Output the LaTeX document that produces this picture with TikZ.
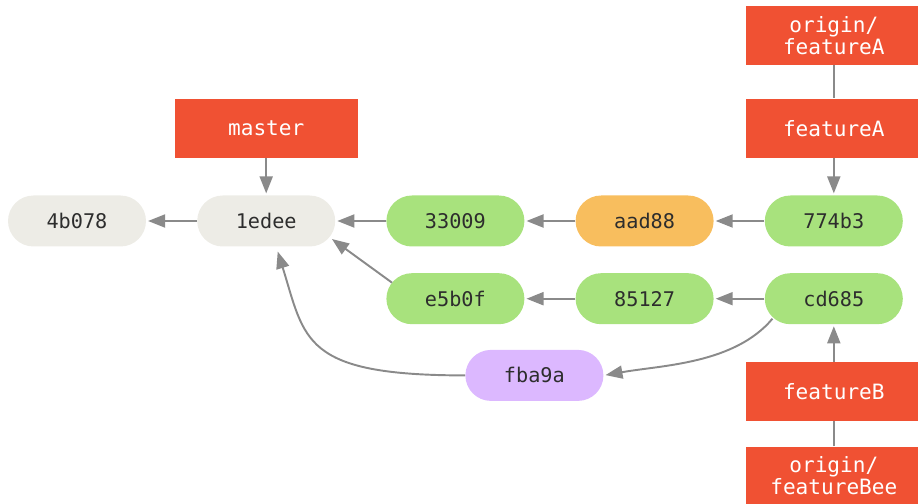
\documentclass[tikz,border=0pt]{standalone}
\usepackage{fontspec}
\setmonofont{DejaVu Sans Mono}
\usetikzlibrary{arrows.meta,positioning}
\definecolor{refred}{RGB}{240,81,51}
\definecolor{commitgray}{RGB}{237,236,230}
\definecolor{commitgreen}{RGB}{168,226,125}
\definecolor{commitorange}{RGB}{248,190,94}
\definecolor{commitpurple}{RGB}{220,184,255}
\definecolor{arrowgray}{RGB}{138,138,138}
\definecolor{commitink}{RGB}{45,45,45}
\newcommand{\hashfont}{\ttfamily\fontsize{11.5}{13}\selectfont}
\newcommand{\reffont}{\ttfamily\fontsize{12}{12.5}\selectfont}

\begin{document}
\begin{tikzpicture}[
    node distance=1.01cm,
    commit/.style={rectangle,rounded corners=0.51cm,minimum width=2.76cm,
      minimum height=1.02cm,inner sep=0pt,font=\hashfont,text=commitink},
    ref/.style={rectangle,fill=refred,minimum width=3.5cm,minimum height=1.18cm,
      inner sep=0pt,align=center,font=\reffont,text=white},
    arrow/.style={-{Triangle[length=3.4mm,width=2.6mm]},line width=1.1pt,
      draw=arrowgray,shorten >=1pt},
    link/.style={line width=1.1pt,draw=arrowgray}
  ]
    \useasboundingbox (0,0) rectangle (18.36,-10.08);

    % commits
    \node[commit,fill=commitgray] (c4b078) at (1.54,-4.42) {4b078};
    \node[commit,fill=commitgray,right=of c4b078] (c1edee) {1edee};
    \node[commit,fill=commitgreen,right=of c1edee] (c33009) {33009};
    \node[commit,fill=commitorange,right=of c33009] (caad88) {aad88};
    \node[commit,fill=commitgreen,right=of caad88] (c774b3) {774b3};
    \node[commit,fill=commitgreen,below=0.52cm of c33009] (ce5b0f) {e5b0f};
    \node[commit,fill=commitgreen,below=0.52cm of caad88] (c85127) {85127};
    \node[commit,fill=commitgreen,below=0.52cm of c774b3] (ccd685) {cd685};
    \node[commit,fill=commitpurple,below=0.5cm of ce5b0f,xshift=1.58cm] (cfba9a) {fba9a};

    % branches
    \node[ref,minimum width=3.66cm,above=0.74cm of c1edee] (rmaster) {master};
    \node[ref,above=0.74cm of c774b3] (rfeatureA) {featureA};
    \node[ref,above=0.66cm of rfeatureA] (roriginA) {origin/\\featureA};
    \node[ref,below=0.74cm of ccd685] (rfeatureB) {featureB};
    \node[ref,below=0.5cm of rfeatureB] (roriginB) {origin/\\featureBee};

    \draw[arrow] (c1edee) -- (c4b078);
    \draw[arrow] (c33009) -- (c1edee);
    \draw[arrow] (caad88) -- (c33009);
    \draw[arrow] (c774b3) -- (caad88);
    \draw[arrow] (c85127) -- (ce5b0f);
    \draw[arrow] (ccd685) -- (c85127);
    \draw[arrow] ([xshift=1.2mm,yshift=3.2mm]ce5b0f.west) -- ([xshift=-1mm,yshift=-3.4mm]c1edee.east);
    \draw[arrow] (cfba9a.west) .. controls +(-3.26,0) and +(0.56,-1.8) .. ([xshift=2.2mm,yshift=-0.6mm]c1edee.south);
    \draw[arrow] ([xshift=1.6mm,yshift=-4mm]ccd685.west) to[out=-130,in=10,looseness=0.85] (cfba9a.east);

    \draw[arrow] (rmaster) -- (c1edee);
    \draw[link] (roriginA) -- (rfeatureA);
    \draw[arrow] (rfeatureA) -- (c774b3);
    \draw[arrow] (rfeatureB) -- (ccd685);
    \draw[link] (roriginB) -- (rfeatureB);
  \end{tikzpicture}
\end{document}
